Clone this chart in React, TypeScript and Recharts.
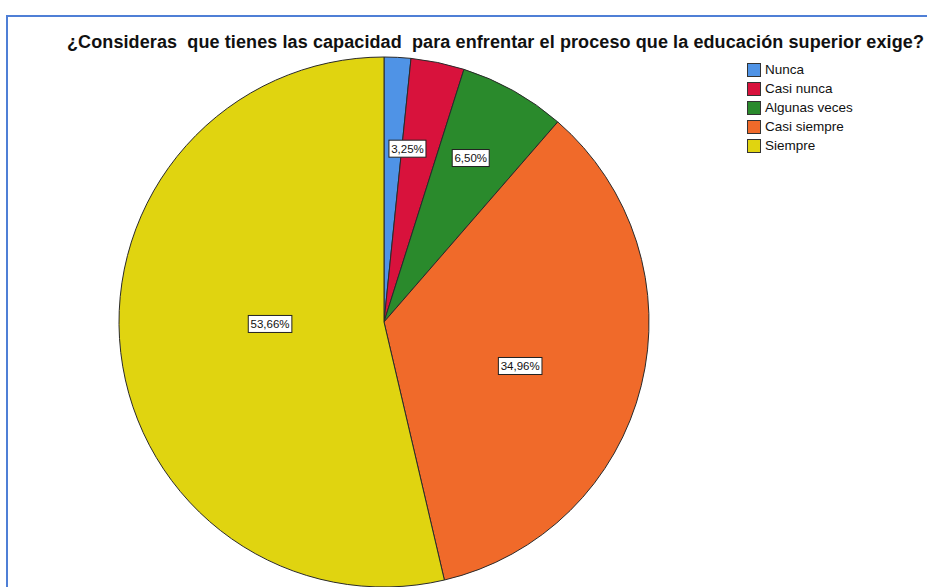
import { PieChart, Pie, Cell } from 'recharts';

const categories = ['Nunca', 'Casi nunca', 'Algunas veces', 'Casi siempre', 'Siempre'];
const counts = [2, 4, 8, 43, 66];
const colors = ['#4f93e6', '#d8123c', '#2a8a2c', '#f06a2a', '#e0d410'];

const title = '¿Consideras  que tienes las capacidad  para enfrentar el proceso que la educación superior exige?';

const data = categories.map((name, i) => ({ name, value: counts[i] }));

// label placement: share of the radius, and a clockwise nudge in degrees
const labelRadius = [0, 0.66, 0.7, 0.54, 0.43];
const labelNudge = [0, -4, -1.4, 4, 5.6];

const renderLabel = (props: any) => {
  const { cx, cy, midAngle, outerRadius, percent, index } = props;
  if (index === 0) return null;
  const RAD = Math.PI / 180;
  const r = outerRadius * labelRadius[index];
  const a = midAngle - labelNudge[index];
  const x = cx + r * Math.cos(-a * RAD);
  const y = cy + r * Math.sin(-a * RAD);
  const text = (percent * 100).toFixed(2).replace('.', ',') + '%';
  const w = text.length * 6.6 + 4;
  return (
    <g>
      <rect x={x - w / 2} y={y - 8.5} width={w} height={17} fill="#ffffff" stroke="#222" strokeWidth={1} />
      <text x={x} y={y + 4} textAnchor="middle" fontSize={11.5} fontFamily="Liberation Sans, Arial, sans-serif" fill="#111">
        {text}
      </text>
    </g>
  );
};

export default function App() {
  return (
    <div style={{ position: 'absolute', left: 0, top: 0, width: 927, height: 587, overflow: 'hidden', background: '#fff' }}>
      <div
        style={{
          position: 'absolute',
          left: 6,
          top: 15,
          width: 940,
          height: 600,
          border: '2px solid #4f7fd6',
        }}
      />
      <div
        style={{
          position: 'absolute',
          left: 67,
          top: 32,
          whiteSpace: 'pre',
          fontFamily: 'Liberation Sans, Arial, sans-serif',
          fontWeight: 'bold',
          fontSize: 18,
          letterSpacing: 0.1,
          color: '#111',
        }}
      >
        {title}
      </div>
      <div style={{ position: 'absolute', left: 0, top: 0 }}>
        <PieChart width={927} height={600} margin={{ top: 0, right: 0, bottom: 0, left: 0 }}>
          <Pie
            data={data}
            dataKey="value"
            nameKey="name"
            cx={384}
            cy={322}
            outerRadius={265}
            startAngle={90}
            endAngle={-270}
            stroke="#2a2a2a"
            strokeWidth={1}
            label={renderLabel}
            labelLine={false}
            isAnimationActive={false}
          >
            {data.map((d, i) => (
              <Cell key={d.name} fill={colors[i]} />
            ))}
          </Pie>
        </PieChart>
      </div>
      <div
        style={{
          position: 'absolute',
          left: 747,
          top: 60,
          fontFamily: 'Liberation Sans, Arial, sans-serif',
          fontSize: 13.5,
          color: '#111',
        }}
      >
        {categories.map((c, i) => (
          <div key={c} style={{ display: 'flex', alignItems: 'center', height: 19 }}>
            <span
              style={{
                display: 'inline-block',
                width: 12,
                height: 12,
                background: colors[i],
                border: '1px solid #333',
                marginRight: 4,
              }}
            />
            {c}
          </div>
        ))}
      </div>
    </div>
  );
}
